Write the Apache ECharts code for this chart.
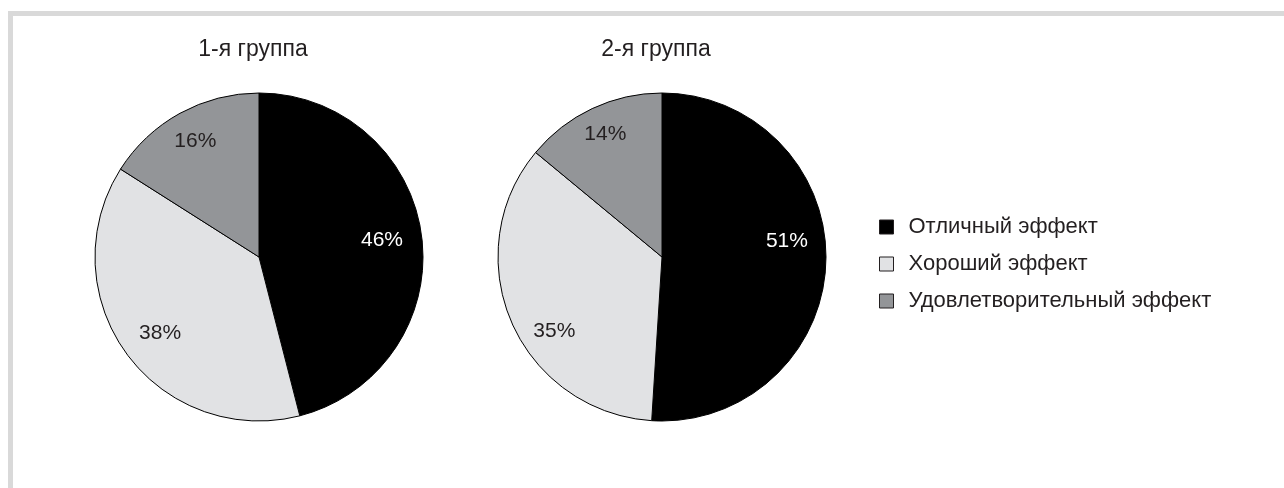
<!DOCTYPE html>
<html>
<head>
<meta charset="utf-8">
<script src="https://cdn.jsdelivr.net/npm/echarts@6/dist/echarts.min.js"></script>
<style>
  html, body { margin: 0; padding: 0; background: #ffffff; }
  #chart { width: 1284px; height: 488px; }
</style>
</head>
<body>
<div id="chart"></div>
<script>
// Оценка эффекта лечения по группам (доля пациентов, %)
const categories = ['Отличный эффект', 'Хороший эффект', 'Удовлетворительный эффект'];
const groupTitles = ['1-я группа', '2-я группа'];
const group1 = [46, 38, 16];
const group2 = [51, 35, 14];

const sliceColors = ['#000000', '#e1e2e4', '#939598'];
const labelColors = ['#ffffff', '#231f20', '#231f20'];
const FONT = '"Liberation Sans", Arial, Helvetica, sans-serif';
const R = 164;
const centers = [[259, 257], [662, 257]];
// fine placement of the percentage labels inside each slice
const labelOffsets = [
  [[-2, -1], [3, 2], [-3, -5]],
  [[-1, -20], [8, 24], [-3, -9]]
];

const chart = echarts.init(document.getElementById('chart'), null, { renderer: 'canvas' });

function slicePie(values, center) {
  return {
    type: 'pie',
    center: center,
    radius: [0, R],
    startAngle: 90,
    clockwise: true,
    silent: true,
    label: { show: false },
    labelLine: { show: false },
    itemStyle: { borderColor: '#000000', borderWidth: 1 },
    data: values.map((v, i) => ({
      name: categories[i],
      value: v,
      itemStyle: { color: sliceColors[i] }
    }))
  };
}

function labelPie(values, center, offsets) {
  return {
    type: 'pie',
    center: center,
    radius: [R / 2, R],
    startAngle: 90,
    clockwise: true,
    silent: true,
    z: 3,
    labelLine: { show: false },
    itemStyle: { color: 'transparent', borderWidth: 0 },
    data: values.map((v, i) => ({
      name: categories[i],
      value: v,
      label: {
        show: true,
        position: 'inside',
        formatter: v + '%',
        color: labelColors[i],
        fontFamily: FONT,
        fontSize: 21,
        offset: offsets[i]
      }
    }))
  };
}

const groups = [group1, group2];

chart.setOption({
  animation: false,
  backgroundColor: '#ffffff',
  title: groupTitles.map((t, i) => ({
    text: t,
    left: centers[i][0] - 11,
    top: 33,
    textAlign: 'center',
    textStyle: { fontFamily: FONT, fontSize: 23, fontWeight: 'normal', color: '#231f20' }
  })),
  legend: {
    orient: 'vertical',
    left: 874,
    top: 210,
    itemWidth: 14,
    itemHeight: 14,
    itemGap: 13,
    icon: 'rect',
    selectedMode: false,
    textStyle: { fontFamily: FONT, fontSize: 22, color: '#231f20', lineHeight: 24, padding: [0, 0, 0, 10] },
    data: categories.map((c, i) => ({
      name: c,
      itemStyle: { color: sliceColors[i], borderColor: '#231f20', borderWidth: 1 }
    }))
  },
  graphic: [
    { type: 'rect', shape: { x: 8, y: 11, width: 1276, height: 5 }, style: { fill: '#d9d9d9' }, silent: true },
    { type: 'rect', shape: { x: 8, y: 11, width: 5, height: 477 }, style: { fill: '#d9d9d9' }, silent: true }
  ],
  series: [
    ...groups.map((g, i) => slicePie(g, centers[i])),
    ...groups.map((g, i) => labelPie(g, centers[i], labelOffsets[i]))
  ]
});
</script>
</body>
</html>
